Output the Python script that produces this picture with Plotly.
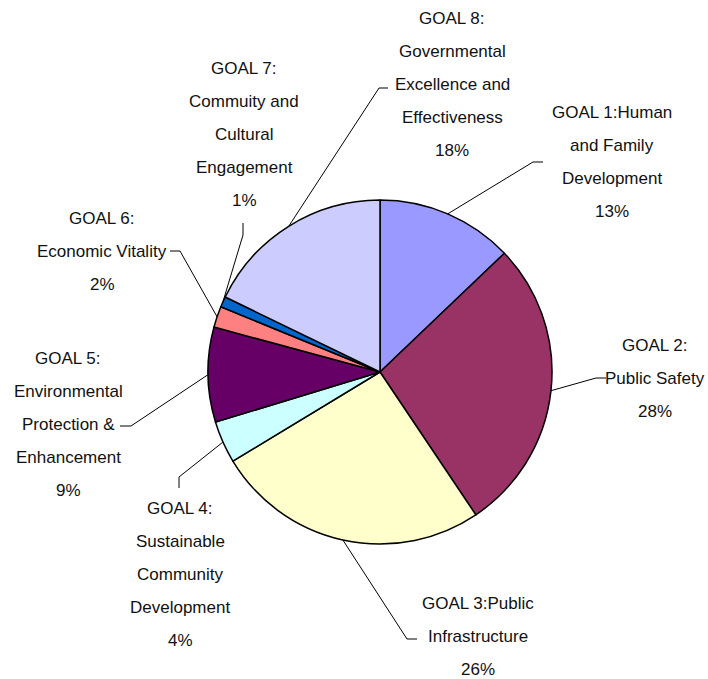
import math
import plotly.graph_objects as go

# Budget share by strategic goal (percent)
goals = ["GOAL 1", "GOAL 2", "GOAL 3", "GOAL 4", "GOAL 5", "GOAL 6", "GOAL 7", "GOAL 8"]
shares = [13, 28, 26, 4, 9, 2, 1, 18]
label_lines = [
    ["GOAL 1:Human", "and Family", "Development"],
    ["GOAL 2:", "Public Safety"],
    ["GOAL 3:Public", "Infrastructure"],
    ["GOAL 4:", "Sustainable", "Community", "Development"],
    ["GOAL 5:", "Environmental", "Protection &", "Enhancement"],
    ["GOAL 6:", "Economic Vitality"],
    ["GOAL 7:", "Commuity and", "Cultural", "Engagement"],
    ["GOAL 8:", "Governmental", "Excellence and", "Effectiveness"],
]
colors = ["#9999FF", "#993366", "#FFFFCC", "#CCFFFF", "#660066", "#FF8080", "#0066CC", "#CCCCFF"]

# Canvas and pie geometry (pixels)
W, H = 708, 679
CX, CY, R = 380, 372, 172
LINE_GAP = 33

# Label placement: centre x, y of first line, leader elbow, leader end
label_pos = [
    (612, 112, (533, 162), (543, 162)),
    (655, 345, (596, 378), (606, 378)),
    (478, 603, (407, 639), (417, 639)),
    (180, 508, (179, 477), (179, 488)),
    (68, 358, (131, 426), (120, 426)),
    (102, 218, (180, 251), (170, 251)),
    (244, 68, (243, 235), (243, 223)),
    (452, 18, (379, 88), (388, 88)),
]

FONT = dict(family="Liberation Sans, Arial", size=17, color="#111111")

fig = go.Figure()
fig.add_trace(go.Pie(
    labels=goals,
    values=shares,
    sort=False,
    direction="clockwise",
    rotation=0,
    textinfo="none",
    hoverinfo="label+percent",
    marker=dict(colors=colors, line=dict(color="black", width=1.5)),
    domain=dict(x=[(CX - R) / W, (CX + R) / W], y=[(H - CY - R) / H, (H - CY + R) / H]),
    showlegend=False,
))

total = sum(shares)
annotations = []
shapes = []
cum = 0
for i, v in enumerate(shares):
    mid = 2 * math.pi * (cum + v / 2) / total
    cum += v
    ex = CX + R * math.sin(mid)
    ey = CY - R * math.cos(mid)
    tx, ty, elbow, end = label_pos[i]
    lines = label_lines[i] + [f"{round(100 * v / total)}%"]
    for k, line in enumerate(lines):
        annotations.append(dict(
            x=tx, y=ty + k * LINE_GAP, xref="x", yref="y", text=line,
            showarrow=False, xanchor="center", yanchor="middle", font=FONT,
            borderpad=0,
        ))
    shapes.append(dict(type="path", xref="x", yref="y",
                       path=f"M {ex:.1f} {ey:.1f} L {elbow[0]} {elbow[1]} L {end[0]} {end[1]}",
                       line=dict(color="black", width=1)))

fig.update_layout(
    width=W, height=H,
    margin=dict(l=0, r=0, t=0, b=0),
    paper_bgcolor="white", plot_bgcolor="rgba(0,0,0,0)",
    xaxis=dict(range=[0, W], visible=False, fixedrange=True),
    yaxis=dict(range=[H, 0], visible=False, fixedrange=True),
    annotations=annotations,
    shapes=shapes,
)

fig.write_html("out.html")
